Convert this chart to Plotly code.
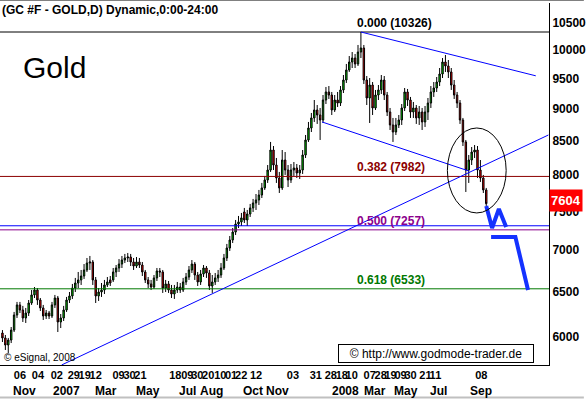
import math
import plotly.graph_objects as go

# ---------------- data ----------------
title_text = "(GC #F - GOLD,D) Dynamic,0:00-24:00"
chart_name = "Gold"
last_label_note = "\u00a9 eSignal, 2008"
url_text = "\u00a9 http://www.godmode-trader.de"

# candles (each candle = 3 trading days), prices x10
opens = [6038, 5985, 5910, 5963, 6070, 6235, 6348, 6291, 6202, 6257,
         6370, 6462, 6519, 6404, 6314, 6224, 6257, 6224, 6348, 6427,
         6158, 6202, 6291, 6404, 6450, 6542, 6601, 6637, 6684, 6756,
         6840, 6853, 6637, 6450, 6496, 6519, 6578, 6637, 6637, 6732,
         6780, 6828, 6877, 6902, 6914, 6853, 6804, 6853, 6816, 6732,
         6637, 6590, 6554, 6661, 6744, 6732, 6542, 6590, 6519, 6473,
         6519, 6554, 6519, 6613, 6672, 6756, 6828, 6696, 6613, 6708,
         6780, 6720, 6566, 6613, 6661, 6696, 6780, 6902, 7026, 7127,
         7229, 7333, 7360, 7492, 7386, 7465, 7546, 7613, 7654, 7722,
         7820, 7932, 8074, 8367, 8146, 7960, 7820, 8219, 8074, 7932,
         8074, 8103, 8031, 8074, 8293, 8518, 8702, 8859, 8986, 8906,
         8827, 9147, 9279, 9229, 8986, 9147, 9098, 9312, 9479, 9650,
         9788, 9858, 9754, 9964, 10036, 9479, 9180, 9395, 9018, 9229,
         9312, 9479, 9229, 8954, 8749, 8640, 8749, 8827, 9018, 9279,
         9147, 8954, 9018, 8859, 8954, 8796, 8954, 9098, 9279, 9345,
         9445, 9581, 9788, 9719, 9616, 9395, 9229, 9098, 8827, 8488,
         8074, 8219, 8337, 8367, 8074, 7960, 7792]
closes = [5985, 5910, 5963, 6070, 6235, 6348, 6291, 6202, 6257, 6370,
          6462, 6519, 6404, 6314, 6224, 6257, 6224, 6348, 6427, 6158,
          6202, 6291, 6404, 6450, 6542, 6601, 6637, 6684, 6756, 6840,
          6853, 6637, 6450, 6496, 6519, 6578, 6613, 6601, 6732, 6780,
          6828, 6877, 6902, 6914, 6853, 6804, 6853, 6816, 6732, 6637,
          6590, 6554, 6661, 6744, 6732, 6542, 6590, 6519, 6473, 6519,
          6554, 6519, 6613, 6672, 6756, 6828, 6696, 6613, 6708, 6780,
          6720, 6566, 6613, 6661, 6696, 6780, 6902, 7026, 7127, 7229,
          7333, 7360, 7413, 7386, 7465, 7546, 7613, 7654, 7722, 7820,
          7932, 8074, 8367, 8146, 7960, 7820, 8219, 8074, 7932, 8074,
          8103, 8031, 8074, 8293, 8518, 8702, 8859, 8986, 8906, 8827,
          9147, 9279, 9229, 8986, 9147, 9098, 9312, 9479, 9650, 9788,
          9858, 9754, 9964, 10036, 9479, 9180, 9395, 9018, 9229, 9312,
          9479, 9229, 8954, 8749, 8640, 8749, 8827, 9018, 9279, 9147,
          8954, 9018, 8859, 8954, 8796, 8954, 9098, 9279, 9345, 9445,
          9581, 9788, 9719, 9616, 9395, 9229, 9098, 8827, 8488, 8074,
          8219, 8337, 8367, 8074, 7960, 7792, 7604]
highs = [6070, 6017, 5985, 6103, 6269, 6382, 6382, 6337, 6314, 6404,
         6519, 6554, 6542, 6427, 6348, 6291, 6280, 6382, 6462, 6450,
         6246, 6337, 6439, 6496, 6590, 6661, 6732, 6756, 6828, 6902,
         6927, 6877, 6672, 6542, 6601, 6637, 6672, 6684, 6780, 6816,
         6889, 6927, 6952, 6964, 6952, 6902, 6914, 6902, 6853, 6756,
         6672, 6637, 6696, 6780, 6780, 6756, 6637, 6625, 6578, 6578,
         6613, 6601, 6661, 6720, 6804, 6877, 6853, 6732, 6756, 6816,
         6804, 6756, 6696, 6720, 6756, 6840, 6952, 7077, 7178, 7281,
         7386, 7439, 7479, 7546, 7519, 7600, 7668, 7736, 7792, 7890,
         7989, 8146, 8488, 8427, 8249, 8046, 8367, 8337, 8146, 8161,
         8190, 8161, 8146, 8367, 8594, 8796, 8938, 9147, 9066, 9018,
         9229, 9362, 9378, 9279, 9229, 9279, 9378, 9564, 9754, 9893,
         9964, 9929, 10090, 10326, 10090, 9547, 9513, 9445, 9312, 9395,
         9564, 9547, 9279, 9018, 8859, 8859, 8906, 9082, 9345, 9329,
         9197, 9115, 9066, 9050, 9018, 9050, 9180, 9378, 9445, 9530,
         9684, 9858, 9911, 9823, 9684, 9479, 9279, 9147, 8859, 8518,
         8293, 8412, 8442, 8427, 8219, 8003, 7820]
lows = [5942, 5858, 5827, 5931, 6049, 6202, 6257, 6158, 6147, 6224,
        6348, 6427, 6348, 6280, 6180, 6191, 6191, 6202, 6314, 6049,
        6092, 6169, 6269, 6370, 6416, 6496, 6542, 6578, 6649, 6732,
        6756, 6578, 6370, 6393, 6439, 6473, 6554, 6566, 6613, 6672,
        6732, 6780, 6840, 6853, 6804, 6756, 6780, 6780, 6684, 6601,
        6542, 6519, 6531, 6625, 6672, 6485, 6496, 6485, 6427, 6416,
        6485, 6485, 6496, 6578, 6637, 6720, 6637, 6566, 6578, 6672,
        6661, 6519, 6485, 6578, 6613, 6661, 6756, 6865, 6989, 7089,
        7191, 7281, 7307, 7346, 7307, 7426, 7492, 7519, 7586, 7681,
        7792, 7890, 8046, 8074, 7890, 7750, 7792, 8003, 7833, 7890,
        7989, 7960, 7946, 8017, 8249, 8488, 8640, 8796, 8765, 8518,
        8780, 9082, 9164, 8906, 8954, 9034, 9050, 9262, 9429, 9616,
        9684, 9684, 9719, 9858, 9412, 9066, 8780, 8906, 8986, 9147,
        9246, 9147, 8890, 8671, 8488, 8594, 8702, 8749, 8970, 9050,
        8859, 8859, 8765, 8749, 8671, 8718, 8827, 9018, 9197, 9279,
        9378, 9513, 9616, 9513, 9312, 9164, 9018, 8765, 8427, 7764,
        7890, 8146, 8249, 7960, 7904, 7750, 7573]
bar_step = 3  # trading days per candle
x_idx = [2 + bar_step * i for i in range(len(closes))]

# Fibonacci retracement levels
fib_ratios = [0.000, 0.382, 0.500, 0.618]
fib_levels = [10326, 7982, 7257, 6533]
fib_colors = ["#000000", "#8c0000", "#8c008c", "#007800"]
support_level = 7310

# drawn trend lines (trading-day index, price)
trend_x = [63, 564]
trend_y = [5704, 8594]
chan_up_x = [371, 551]
chan_up_y = [10326, 9550]
chan_lo_x = [331, 482]
chan_lo_y = [8796, 8060]
proj_a_x = [500, 506, 513, 520.5]
proj_a_y = [7572, 7281, 7532, 7294]
proj_b_x = [505, 530, 543]
proj_b_y = [7165, 7165, 6519]
ellipse_x = [460, 520.5]
ellipse_y = [7479, 8702]

# axis labels
y_ticks = [6000, 6500, 7000, 7500, 8000, 8500, 9000, 9500, 10000, 10500]
day_tick_pos = [20.0, 38.5, 58.0, 75.4, 86.7, 98.0, 121.5, 132.8, 144.1, 180.0,
                192.3, 202.6, 213.8, 226.2, 237.4, 247.7, 263.1, 301.0, 324.6, 340.0,
                351.3, 361.5, 380.0, 391.3, 401.5, 411.8, 422.1, 437.4, 447.7, 494.9]
day_labels = ["06", "04", "02", "29", "19", "12", "09", "30", "21", "18",
              "09", "30", "20", "10", "01", "22", "12", "03", "31", "28",
              "18", "10", "07", "28", "19", "09", "30", "21", "11", "08"]
month_pos = [25.1, 68.2, 108.2, 152.3, 192.3, 216.9, 259.5, 285.6, 355.4, 385.1, 417.9, 450.8, 494.9]
month_labels = ["Nov", "2007", "Mar", "May", "Jul", "Aug", "Oct", "Nov", "2008", "Mar", "May", "Jul", "Sep"]

# ---------------- figure ----------------
W, H = 586, 399
ML, MR, MT, MB = 0, 35, 3, 34
PW, PH = W - ML - MR, H - MT - MB
FONT = "Liberation Sans, Arial, sans-serif"
X_RANGE = [-0.513, 564.6]
Y_RANGE = [3.75613, 4.03638]


def px(xp):
    return (xp - ML) / PW


def py(yp):
    return 1 - (yp - MT) / PH


fig = go.Figure()

# horizontal levels
for lvl, col in zip(fib_levels, fib_colors):
    fig.add_trace(go.Scatter(x=[X_RANGE[0] - 5, X_RANGE[1] + 5], y=[lvl, lvl], mode="lines",
                             line=dict(color=col, width=1), hoverinfo="skip", showlegend=False))
fig.add_trace(go.Scatter(x=[X_RANGE[0] - 5, X_RANGE[1] + 5], y=[support_level, support_level], mode="lines",
                         line=dict(color="#0000ff", width=1), hoverinfo="skip", showlegend=False))

# thin trend / channel lines
for xs, ys in [(trend_x, trend_y), (chan_up_x, chan_up_y), (chan_lo_x, chan_lo_y)]:
    fig.add_trace(go.Scatter(x=xs, y=ys, mode="lines", line=dict(color="#0000ff", width=1),
                             hoverinfo="skip", showlegend=False))

# candles
fig.add_trace(go.Candlestick(
    x=x_idx, open=opens, high=highs, low=lows, close=closes,
    increasing=dict(line=dict(color="#000000", width=1), fillcolor="#00e000"),
    decreasing=dict(line=dict(color="#000000", width=1), fillcolor="#ff0000"),
    whiskerwidth=0, showlegend=False, hoverinfo="skip"))

# projection lines
for xs, ys in [(proj_a_x, proj_a_y), (proj_b_x, proj_b_y)]:
    fig.add_trace(go.Scatter(x=xs, y=ys, mode="lines", line=dict(color="#1432ff", width=4),
                             hoverinfo="skip", showlegend=False))

shapes = [
    dict(type="circle", xref="x", yref="y", x0=ellipse_x[0], x1=ellipse_x[1],
         y0=ellipse_y[0], y1=ellipse_y[1], line=dict(color="#000000", width=1)),
    # outer frame bits
    dict(type="line", xref="paper", yref="paper", x0=px(0), x1=px(W), y0=py(0.5), y1=py(0.5),
         line=dict(color="#808080", width=1)),
    dict(type="line", xref="paper", yref="paper", x0=px(0), x1=px(W), y0=py(397.5), y1=py(397.5),
         line=dict(color="#c0c0c0", width=2)),
]

annotations = []
# title
annotations.append(dict(text="<b>" + title_text + "</b>", xref="paper", yref="paper", x=px(0), y=py(10.5),
                        xanchor="left", yanchor="middle", showarrow=False,
                        font=dict(family=FONT, size=12, color="#000000")))
annotations.append(dict(text=chart_name, xref="paper", yref="paper", x=px(55), y=py(67),
                        xanchor="center", yanchor="middle", showarrow=False,
                        font=dict(family=FONT, size=30, color="#000000")))
annotations.append(dict(text=last_label_note, xref="paper", yref="paper", x=px(2), y=py(357.5),
                        xanchor="left", yanchor="middle", showarrow=False,
                        font=dict(family=FONT, size=10, color="#000000")))
annotations.append(dict(text=url_text, xref="paper", yref="paper", x=px(438), y=py(353.5),
                        xanchor="center", yanchor="middle", showarrow=False, width=192, height=15,
                        bgcolor="#ffffff", bordercolor="#000000", borderwidth=1, borderpad=1,
                        font=dict(family=FONT, size=12, color="#000000")))
# fib labels
for r, lvl, col in zip(fib_ratios, fib_levels, fib_colors):
    annotations.append(dict(text="<b>%.3f (%d)</b>" % (r, lvl), xref="x", yref="y",
                            x=364.6, y=math.log10(lvl), xanchor="left", yanchor="bottom",
                            showarrow=False, yshift=0,
                            font=dict(family=FONT, size=12, color=col)))
# last price box
annotations.append(dict(text="<b>%d</b>" % closes[-1], xref="paper", yref="y", x=1, y=math.log10(closes[-1]),
                        xanchor="left", yanchor="middle", showarrow=False, yshift=3, xshift=0,
                        bgcolor="#ff0000", borderpad=1, height=19,
                        font=dict(family=FONT, size=13, color="#ffffff")))
# month row
for mp, ml in zip(month_pos, month_labels):
    annotations.append(dict(text="<b>" + ml + "</b>", xref="x", yref="paper", x=mp, y=py(391),
                            xanchor="center", yanchor="middle", showarrow=False,
                            font=dict(family=FONT, size=12, color="#000000")))

fig.update_layout(
    width=W, height=H, margin=dict(l=ML, r=MR, t=MT, b=MB, pad=0),
    paper_bgcolor="#ffffff", plot_bgcolor="#ffffff",
    showlegend=False, shapes=shapes, annotations=annotations,
    font=dict(family=FONT, size=12, color="#000000"),
    xaxis=dict(range=X_RANGE, rangeslider=dict(visible=False), showgrid=False, zeroline=False,
               showline=True, linecolor="#000000", linewidth=1, ticks="",
               tickmode="array", tickvals=day_tick_pos, ticktext=["<b>%s</b>" % d for d in day_labels],
               tickfont=dict(family=FONT, size=11, color="#000000"), tickangle=0, fixedrange=True),
    yaxis=dict(type="log", range=Y_RANGE, side="right", showgrid=False, zeroline=False,
               showline=True, linecolor="#000000", linewidth=1, ticks="",
               tickmode="array", tickvals=y_ticks, ticktext=["<b>%d</b>" % v for v in y_ticks],
               tickfont=dict(family=FONT, size=12, color="#000000"), fixedrange=True),
)

fig.write_html("out.html", config={"displayModeBar": False, "staticPlot": True})
